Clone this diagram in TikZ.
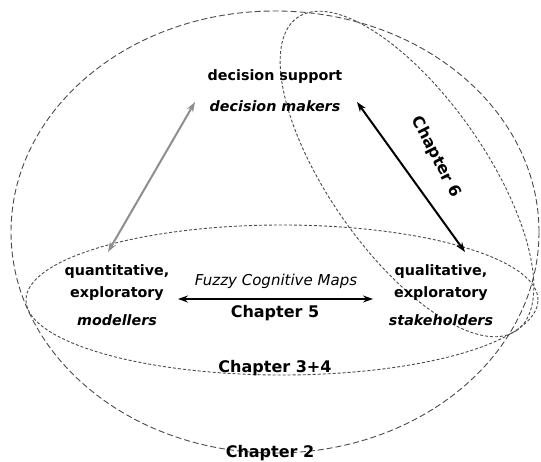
\documentclass[tikz,border=0pt]{standalone}
\usepackage{fontspec}
\setmainfont{DejaVu Sans}
\usetikzlibrary{arrows.meta}
\definecolor{dashgray}{HTML}{4A4A4A}
\definecolor{arrowgray}{HTML}{8E8E8E}
\tikzset{
  bigdash/.style={draw=dashgray, line width=0.9pt, dash pattern=on 6pt off 3pt},
  smalldash/.style={draw=dashgray, line width=0.9pt, dash pattern=on 3pt off 2pt},
  lbl/.style={font=\fontsize{14.3}{17}\selectfont\bfseries, anchor=base, inner sep=0pt},
  role/.style={font=\fontsize{14.3}{17}\selectfont\bfseries\itshape, anchor=base, inner sep=0pt},
  fcm/.style={font=\fontsize{15}{18}\selectfont\itshape, anchor=base, inner sep=0pt},
  chap/.style={font=\fontsize{16}{19}\selectfont\bfseries, anchor=base, inner sep=0pt},
  link/.style={line width=2pt, {Stealth[length=10pt,width=7pt]}-{Stealth[length=10pt,width=7pt]}},
}
\begin{document}
\begin{tikzpicture}[x=1pt, y=-1pt]
\useasboundingbox (0,0) rectangle (541,462);

% chapter regions
\draw[bigdash] (275,232) ellipse [x radius=264pt, y radius=221pt];
\draw[smalldash] (282,300) ellipse [x radius=256pt, y radius=75pt];
\draw[smalldash, shift={(407,174)}, rotate=-55] (0,0) ellipse [x radius=191pt, y radius=78pt];

% labels
\node[lbl] (ds) at (275,81) {decision support};
\node[role] (dm) at (275,112) {decision makers};

\node[lbl] (qn1) at (117,276) {quantitative,};
\node[lbl] (qn2) at (117,298) {exploratory};
\node[role] (mod) at (117,326) {modellers};

\node[lbl] (ql1) at (441,276) {qualitative,};
\node[lbl] (ql2) at (441,298) {exploratory};
\node[role] (stk) at (441,326) {stakeholders};

\node[fcm] (fcm) at (276,286) {Fuzzy Cognitive Maps};
\node[chap] (c5) at (275,318) {Chapter 5};
\node[chap] (c34) at (275,373) {Chapter 3+4};
\node[chap] (c2) at (270,457) {Chapter 2};
\node[chap, anchor=center, rotate=-63] (c6) at (436,157) {Chapter 6};

% connector ends
\coordinate (dmL) at (195,102);
\coordinate (dmR) at (357,102);
\coordinate (qnT) at (108,252);
\coordinate (qlT) at (465,252);
\coordinate (qnE) at (178,299);
\coordinate (qlW) at (373,299);

% connectors
\draw[link, draw=arrowgray, fill=arrowgray] (dmL) -- (qnT);
\draw[link, draw=black, fill=black] (dmR) -- (qlT);
\draw[link, draw=black, fill=black] (qnE) -- (qlW);
\end{tikzpicture}
\end{document}
